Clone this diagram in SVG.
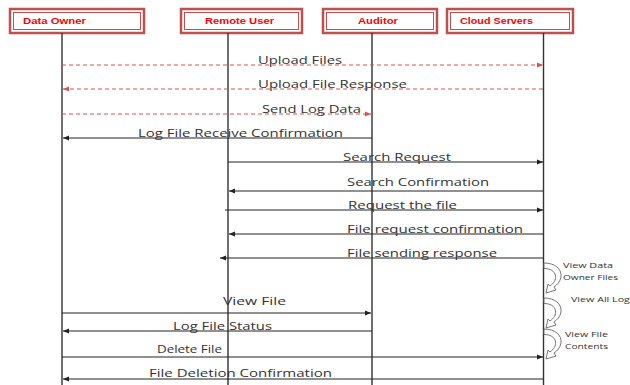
<svg xmlns="http://www.w3.org/2000/svg" width="630" height="385" viewBox="0 0 630 385">
  <style>
    .box-out { fill: #fff; stroke: #c0504d; stroke-width: 2.5; }
    .box-in { fill: none; stroke: #c0504d; stroke-width: 1; }
    .head { font-family: "Liberation Sans", Arial, sans-serif; font-size: 9px; font-weight: bold; fill: #ff0000; }
    .life { stroke: #333; stroke-width: 1.4; fill: none; }
    .msg { stroke: #222; stroke-width: 1; fill: none; }
    .dash { stroke: #d9534f; stroke-width: 1; stroke-dasharray: 4 3; fill: none; }
    .lbl { font-family: "Open Sans", "Liberation Sans", sans-serif; font-size: 11.5px; fill: #333; }
    .note { font-family: "Open Sans", "Liberation Sans", sans-serif; font-size: 8px; fill: #333; }
    .loop { fill: #fff; stroke: #666; stroke-width: 0.9; }
  </style>
  <defs>
    <marker id="ah" markerWidth="7" markerHeight="6" refX="6" refY="3" orient="auto" markerUnits="userSpaceOnUse">
      <path d="M0,0.5 L6,3 L0,5.5 Z" fill="#222"/>
    </marker>
    <marker id="ahr" markerWidth="7" markerHeight="6" refX="6" refY="3" orient="auto" markerUnits="userSpaceOnUse">
      <path d="M0,0.5 L6,3 L0,5.5 Z" fill="#d9534f"/>
    </marker>
    <!-- curved self-call arrow on a lifeline -->
    <path id="selfcall" class="loop" d="M0,0 C11,0 18,6 17,14 C16,19 13,22 10,24 L12,27 L2,30 L4,21 L6,23 C10,20 12,17 11.5,13 C11,8 6,5.5 0,5.5 Z"/>
  </defs>

  <!-- participants -->
  <g id="data-owner">
    <rect class="box-out" x="10" y="9" width="134" height="24"/>
    <rect class="box-in" x="13.5" y="12.5" width="127" height="17"/>
    <text class="head" x="23" y="24" textLength="63" lengthAdjust="spacingAndGlyphs">Data Owner</text>
    <line class="life" x1="62" y1="33" x2="62" y2="385"/>
  </g>
  <g id="remote-user">
    <rect class="box-out" x="181" y="9" width="121" height="24"/>
    <rect class="box-in" x="184.5" y="12.5" width="114" height="17"/>
    <text class="head" x="205" y="24" textLength="69" lengthAdjust="spacingAndGlyphs">Remote User</text>
    <line class="life" x1="228" y1="33" x2="228" y2="385"/>
  </g>
  <g id="auditor">
    <rect class="box-out" x="323" y="9" width="114" height="24"/>
    <rect class="box-in" x="326.5" y="12.5" width="107" height="17"/>
    <text class="head" x="358" y="24" textLength="40" lengthAdjust="spacingAndGlyphs">Auditor</text>
    <line class="life" x1="372" y1="33" x2="372" y2="385"/>
  </g>
  <g id="cloud-servers">
    <rect class="box-out" x="447" y="9" width="126" height="24"/>
    <rect class="box-in" x="450.5" y="12.5" width="119" height="17"/>
    <text class="head" x="460" y="24" textLength="73" lengthAdjust="spacingAndGlyphs">Cloud Servers</text>
    <line class="life" x1="543.5" y1="33" x2="543.5" y2="385"/>
  </g>

  <!-- messages -->
  <g id="connectors">
    <line class="dash" x1="62" y1="65" x2="543" y2="65" marker-end="url(#ahr)"/>
    <line class="dash" x1="543" y1="89" x2="63" y2="89" marker-end="url(#ahr)"/>
    <line class="dash" x1="62" y1="114" x2="371" y2="114" marker-end="url(#ahr)"/>
    <line class="msg" x1="372" y1="138" x2="63" y2="138" marker-end="url(#ah)"/>
    <line class="msg" x1="228" y1="162" x2="543" y2="162" marker-end="url(#ah)"/>
    <line class="msg" x1="543" y1="191" x2="229" y2="191" marker-end="url(#ah)"/>
    <line class="msg" x1="225" y1="210" x2="543" y2="210" marker-end="url(#ah)"/>
    <line class="msg" x1="543" y1="234" x2="229" y2="234" marker-end="url(#ah)"/>
    <line class="msg" x1="543" y1="258" x2="220" y2="258" marker-end="url(#ah)"/>
    <line class="msg" x1="62" y1="313" x2="371" y2="313" marker-end="url(#ah)"/>
    <line class="msg" x1="372" y1="331" x2="63" y2="331" marker-end="url(#ah)"/>
    <line class="msg" x1="62" y1="357" x2="543" y2="357" marker-end="url(#ah)"/>
    <line class="msg" x1="543" y1="379" x2="63" y2="379" marker-end="url(#ah)"/>

    <use href="#selfcall" x="544" y="263"/>
    <use href="#selfcall" x="544" y="298"/>
    <use href="#selfcall" x="544" y="329"/>
  </g>

  <!-- message labels -->
  <g id="labels">
    <text class="lbl" x="258" y="64" textLength="84" lengthAdjust="spacingAndGlyphs">Upload Files</text>
    <text class="lbl" x="258" y="88" textLength="149" lengthAdjust="spacingAndGlyphs">Upload File Response</text>
    <text class="lbl" x="262" y="113" textLength="99" lengthAdjust="spacingAndGlyphs">Send Log Data</text>
    <text class="lbl" x="138" y="137" textLength="205" lengthAdjust="spacingAndGlyphs">Log File Receive Confirmation</text>
    <text class="lbl" x="343" y="161" textLength="108" lengthAdjust="spacingAndGlyphs">Search Request</text>
    <text class="lbl" x="347" y="186" textLength="142" lengthAdjust="spacingAndGlyphs">Search Confirmation</text>
    <text class="lbl" x="348" y="209" textLength="109" lengthAdjust="spacingAndGlyphs">Request the file</text>
    <text class="lbl" x="347" y="233" textLength="176" lengthAdjust="spacingAndGlyphs">File request confirmation</text>
    <text class="lbl" x="347" y="257" textLength="150" lengthAdjust="spacingAndGlyphs">File sending response</text>
    <text class="lbl" x="223" y="305" textLength="63" lengthAdjust="spacingAndGlyphs">View File</text>
    <text class="lbl" x="173" y="330" textLength="99" lengthAdjust="spacingAndGlyphs">Log File Status</text>
    <text class="lbl" x="157" y="353" textLength="65" lengthAdjust="spacingAndGlyphs">Delete File</text>
    <text class="lbl" x="149" y="377" textLength="183" lengthAdjust="spacingAndGlyphs">File Deletion Confirmation</text>

    <text class="note" x="563" y="268" textLength="50" lengthAdjust="spacingAndGlyphs">View Data</text>
    <text class="note" x="563" y="280" textLength="55" lengthAdjust="spacingAndGlyphs">Owner Files</text>
    <text class="note" x="571" y="302" textLength="64" lengthAdjust="spacingAndGlyphs">View All Logs</text>
    <text class="note" x="565" y="337" textLength="43" lengthAdjust="spacingAndGlyphs">View File</text>
    <text class="note" x="565" y="349" textLength="43" lengthAdjust="spacingAndGlyphs">Contents</text>
  </g>
</svg>
